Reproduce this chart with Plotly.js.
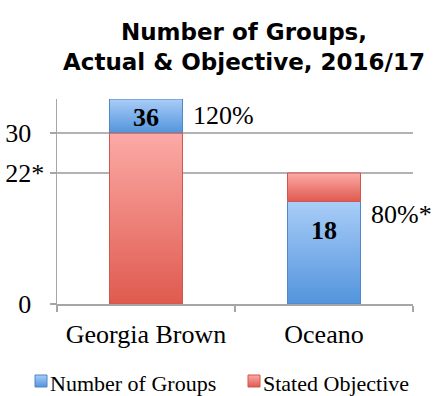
<!DOCTYPE html>
<html>
<head>
<meta charset="utf-8">
<script src="https://cdn.plot.ly/plotly-3.0.1.min.js"></script>
<style>html,body{margin:0;padding:0;background:#fff;}#chart{width:433px;height:396px;}</style>
</head>
<body>
<div id="chart"></div>
<script>
const categories = ["Georgia Brown", "Oceano"];
const actualGroups = [36, 18];
const statedObjective = [30, 23];
const pctLabels = ["120%", "80%*"];
const yTickVals = [0, 23, 30];
const yTickText = ["0\u2002", "22*", "30\u2002"];

// Stacked look: the smaller value sits at the bottom, the difference on top
const blueBase = [], blueLen = [], redBase = [], redLen = [];
for (let i = 0; i < categories.length; i++) {
  const a = actualGroups[i], o = statedObjective[i];
  if (a >= o) { redBase.push(0); redLen.push(o); blueBase.push(o); blueLen.push(a - o); }
  else { blueBase.push(0); blueLen.push(a); redBase.push(a); redLen.push(o - a); }
}

const serif = "Liberation Serif, Times New Roman, serif";

const traces = [
  { type: "bar", name: "Number of Groups", x: categories, y: blueLen, base: blueBase,
    width: 0.41, marker: { color: "#7fb0ea", line: { color: "#4f86c6", width: 1 } },
    hoverinfo: "skip" },
  { type: "bar", name: "Stated Objective", x: categories, y: redLen, base: redBase,
    width: 0.41, marker: { color: "#f08a84", line: { color: "#d0574f", width: 1 } },
    hoverinfo: "skip" }
];

const annotations = [];
for (let i = 0; i < categories.length; i++) {
  const a = actualGroups[i], o = statedObjective[i];
  annotations.push({
    x: categories[i], y: a >= o ? (a + o) / 2 : a, yanchor: a >= o ? "middle" : "top",
    yshift: a >= o ? -1 : -12, text: "<b>" + a + "</b>", showarrow: false,
    font: { family: serif, size: 26, color: "#000" }
  });
  annotations.push({
    x: i, xshift: 45, y: Math.max(a, o), yanchor: "middle", yshift: a >= o ? -16 : -41,
    xanchor: "left", text: pctLabels[i], showarrow: false,
    font: { family: serif, size: 26, color: "#000" }
  });
}

const layout = {
  width: 433, height: 396,
  margin: { l: 57, r: 20, t: 99, b: 92 },
  paper_bgcolor: "#fff", plot_bgcolor: "#fff",
  barmode: "overlay",
  title: { text: "<b>Number of Groups,<br>Actual & Objective, 2016/17</b>",
    font: { family: "DejaVu Sans", size: 23, color: "#000" },
    x: 0.5635, xanchor: "center", y: 0.9, yanchor: "middle" },
  xaxis: { type: "category", range: [-0.5, 1.5], showgrid: false, showline: true,
    linecolor: "#a6a6a6", linewidth: 1.5,
    ticks: "outside", tickson: "boundaries", ticklen: 6, tickcolor: "#a6a6a6", tickwidth: 1.5,
    tickangle: 0, automargin: false, ticklabelstandoff: 6,
    tickfont: { family: serif, size: 26, color: "#000" }, fixedrange: true },
  yaxis: { range: [0, 36], tickmode: "array", tickvals: yTickVals, ticktext: yTickText,
    showgrid: true, gridcolor: "#b3b3b3", gridwidth: 1.5, zeroline: false,
    showline: true, linecolor: "#a6a6a6", linewidth: 1.5, automargin: false,
    ticks: "outside", ticklen: 6, tickcolor: "#a6a6a6", tickwidth: 1.5, ticklabelstandoff: 0,
    tickfont: { family: serif, size: 26, color: "#000" }, fixedrange: true },
  showlegend: true,
  // drawn inside the plot first (so it does not push the margins), then moved below
  legend: { orientation: "h", x: 0, xanchor: "left", y: 1, yanchor: "top",
    font: { family: serif, size: 22, color: "#000" }, traceorder: "normal",
    bgcolor: "rgba(0,0,0,0)" },
  annotations: annotations
};

function parseT(s) {
  const m = /translate\(\s*([-\d.e]+)[ ,]+([-\d.e]+)\s*\)/.exec(s || "");
  return m ? [parseFloat(m[1]), parseFloat(m[2])] : [0, 0];
}

Plotly.newPlot("chart", traces, layout, { staticPlot: true, displayModeBar: false }).then(function (gd) {
  const svg = gd.querySelector(".main-svg");
  let defs = svg.querySelector("defs");
  const ns = "http://www.w3.org/2000/svg";
  function grad(id, top, bottom) {
    const g = document.createElementNS(ns, "linearGradient");
    g.setAttribute("id", id); g.setAttribute("x1", "0"); g.setAttribute("y1", "0");
    g.setAttribute("x2", "0"); g.setAttribute("y2", "1");
    [[0, top], [1, bottom]].forEach(function (s) {
      const st = document.createElementNS(ns, "stop");
      st.setAttribute("offset", s[0]); st.setAttribute("stop-color", s[1]);
      g.appendChild(st);
    });
    defs.appendChild(g);
  }
  grad("gBlue", "#a9cdf8", "#5294dc");
  grad("gRed", "#fcaaa6", "#df5a4f");
  const ids = ["gBlue", "gRed"];
  gd.querySelectorAll(".barlayer .trace").forEach(function (t, i) {
    t.querySelectorAll("path").forEach(function (p) { p.style.fill = "url(#" + ids[i] + ")"; });
  });
  const leg = gd.querySelector(".legend");
  if (!leg) return;
  leg.querySelectorAll("[clip-path]").forEach(function (el) { el.removeAttribute("clip-path"); });
  const items = leg.querySelectorAll(".traces");
  let base = null;
  items.forEach(function (t, i) {
    t.querySelectorAll(".legendpoints path").forEach(function (p) { p.style.fill = "url(#" + ids[i] + ")"; });
    const tt = parseT(t.getAttribute("transform"));
    if (i === 0) base = tt;
    t.setAttribute("transform", "translate(" + (base[0] + i * 213) + "," + base[1] + ")");
  });
  const firstText = leg.querySelector(".legendtext");
  if (firstText) {
    const r = firstText.getBoundingClientRect();
    const dx = 50 - r.left, dy = 383.6 - (r.top + r.height / 2);
    const tr = parseT(leg.getAttribute("transform"));
    leg.setAttribute("transform", "translate(" + (tr[0] + dx) + "," + (tr[1] + dy) + ")");
  }
  // legend swatch: its left edge 15px before the text, top level with the capitals
  items.forEach(function (t) {
    const lp = t.querySelector(".legendpoints");
    const txt = t.querySelector(".legendtext");
    if (!lp || !txt) return;
    const pr = lp.getBoundingClientRect(), trr = txt.getBoundingClientRect();
    const sx = (trr.left - 15) - pr.left;
    const sy = 375 - pr.top;
    lp.setAttribute("transform", "translate(" + sx + "," + sy + ")");
  });
});
</script>
</body>
</html>
